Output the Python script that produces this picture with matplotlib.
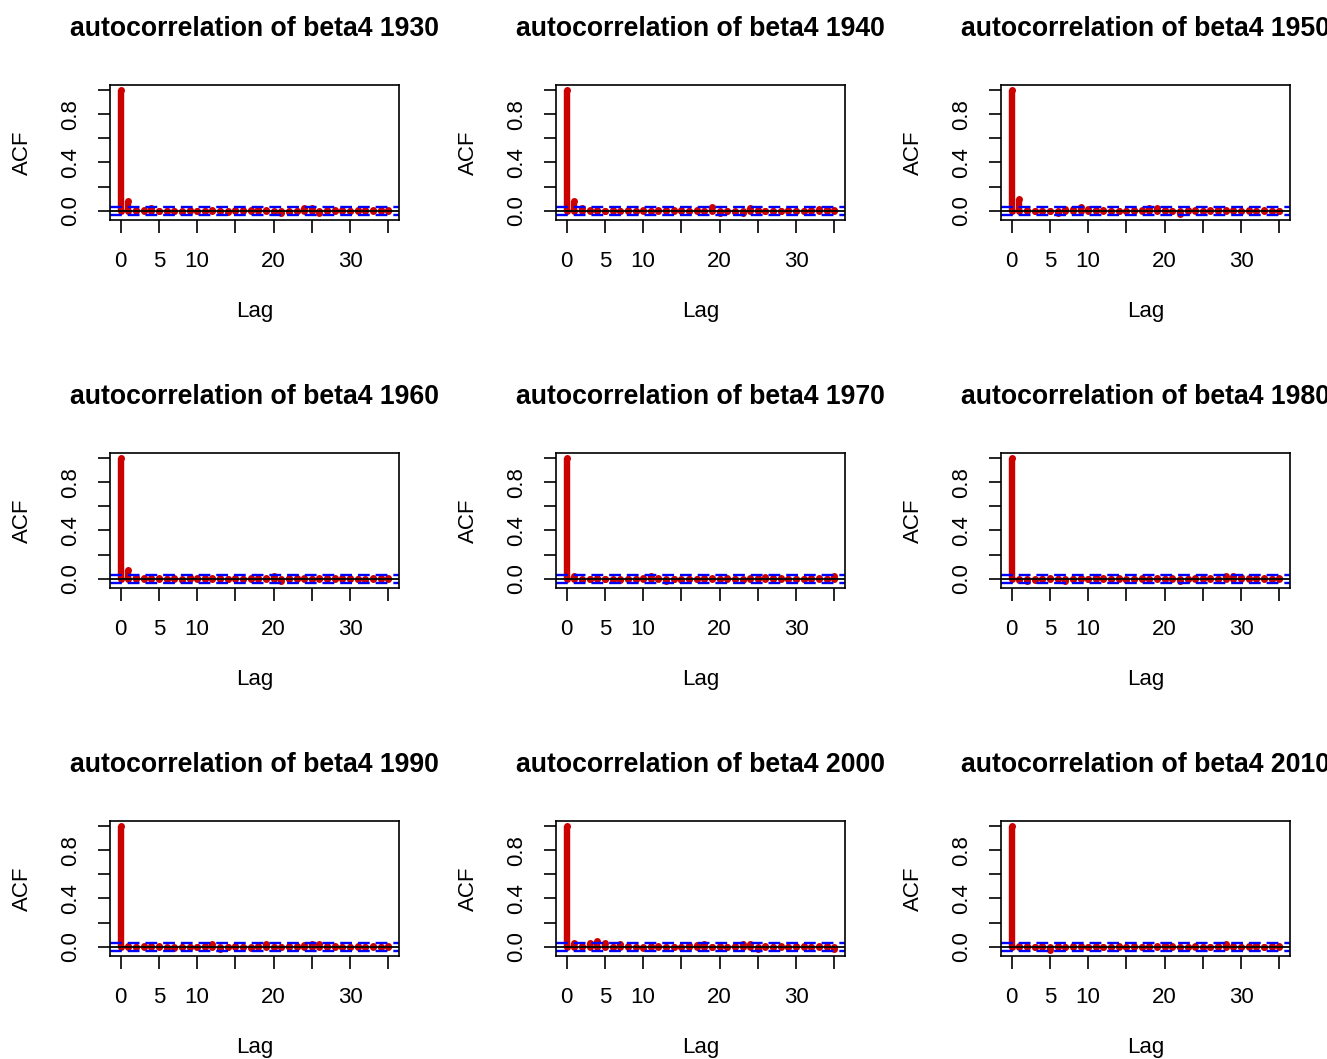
import matplotlib
matplotlib.use("Agg")
import matplotlib.pyplot as plt
import numpy as np

plt.rcParams['font.family'] = ['Liberation Sans', 'DejaVu Sans']

# acf of beta4 per decade, lags 0..35
years = [1930, 1940, 1950, 1960, 1970, 1980, 1990, 2000, 2010]
lags = list(range(36))

acf_1930 = [1.0, 0.08, 0.005, 0.01, 0.025, -0.005, 0.0, -0.005, -0.01, 0.005, 0.0, -0.005,
            0.01, 0.0, -0.01, 0.005, 0.01, 0.01, 0.015, 0.01, -0.01, -0.015, -0.01, -0.005,
            0.02, 0.025, -0.02, 0.005, 0.01, 0.01, -0.005, 0.01, 0.01, 0.005, 0.01, 0.005]
acf_1940 = [1.0, 0.08, 0.02, 0.01, 0.005, -0.005, 0.005, 0.0, 0.01, -0.005, 0.005, 0.0,
            0.01, 0.005, 0.01, 0.005, 0.0, 0.01, 0.0, 0.03, -0.015, -0.005, -0.01, -0.015,
            0.02, 0.01, 0.0, -0.005, 0.0, 0.005, -0.005, 0.0, 0.01, 0.015, 0.015, 0.005]
acf_1950 = [1.0, 0.1, 0.01, 0.0, -0.005, 0.0, -0.015, 0.015, 0.015, 0.03, 0.015, 0.01,
            0.005, 0.0, -0.005, 0.0, 0.005, 0.01, 0.02, 0.02, 0.005, 0.0, -0.03, 0.005,
            0.005, -0.005, 0.01, 0.015, 0.01, 0.005, 0.0, 0.005, 0.0, 0.005, 0.0, -0.005]
acf_1960 = [1.0, 0.07, 0.015, 0.01, 0.01, 0.005, 0.0, 0.005, -0.01, 0.015, 0.005, 0.01,
            0.01, 0.005, 0.0, 0.005, 0.0, 0.005, 0.01, 0.01, 0.02, -0.02, 0.005, 0.005,
            0.005, 0.0, 0.005, 0.005, 0.01, 0.01, 0.005, 0.0, -0.01, 0.005, 0.005, 0.005]
acf_1970 = [1.0, 0.02, -0.01, 0.0, 0.005, 0.0, -0.01, -0.01, 0.0, -0.005, 0.005, 0.02,
            0.005, -0.02, -0.005, -0.01, 0.0, 0.0, 0.005, 0.01, -0.005, 0.005, 0.0, -0.01,
            0.01, 0.005, 0.015, 0.01, 0.005, 0.0, -0.005, 0.0, 0.005, 0.01, 0.0, 0.02]
acf_1980 = [1.0, -0.01, -0.02, -0.01, -0.005, 0.005, -0.005, -0.02, -0.005, 0.005, 0.0, 0.015,
            0.01, -0.005, 0.005, -0.01, 0.0, 0.005, 0.0, 0.005, -0.005, 0.005, -0.02, 0.0,
            0.01, 0.005, 0.01, 0.0, 0.025, 0.02, 0.015, 0.005, 0.01, 0.005, 0.0, 0.005]
acf_1990 = [1.0, 0.01, -0.005, 0.005, 0.01, 0.005, -0.01, -0.01, -0.005, -0.005, 0.0, 0.005,
            0.02, -0.015, 0.0, 0.005, 0.0, -0.01, 0.01, 0.02, -0.005, 0.0, 0.005, 0.01,
            0.015, 0.025, 0.02, 0.01, 0.005, 0.0, 0.0, 0.005, 0.0, 0.005, 0.0, 0.005]
acf_2000 = [1.0, 0.03, 0.005, 0.03, 0.045, 0.035, 0.0, 0.02, 0.01, 0.0, -0.01, 0.005,
            0.005, 0.0, -0.005, 0.0, 0.015, 0.015, 0.02, 0.0, 0.005, 0.0, 0.005, 0.02,
            0.02, -0.02, 0.005, 0.0, 0.005, 0.0, 0.005, 0.005, 0.0, 0.005, 0.01, -0.02]
acf_2010 = [1.0, 0.01, 0.01, 0.0, 0.005, -0.025, 0.005, 0.0, 0.01, 0.005, 0.0, 0.01,
            0.0, -0.005, 0.005, 0.0, 0.005, -0.005, 0.01, 0.005, 0.015, 0.005, 0.0, -0.005,
            0.005, 0.0, 0.0, 0.005, 0.02, 0.005, 0.0, 0.01, 0.015, 0.0, 0.01, 0.005]

acfs = [acf_1930, acf_1940, acf_1950, acf_1960, acf_1970,
        acf_1980, acf_1990, acf_2000, acf_2010]
ci = 0.035  # 95% bound

W, H = 1327, 1059
fig = plt.figure(figsize=(W / 100, H / 100), dpi=100)

col_left = [110, 556, 1001]
row_top = [85, 453, 821]
bw, bh = 289, 135
red = '#CD0000'
lw = 4.6

for i, year in enumerate(years):
    r, c = i // 3, i % 3
    x0, y0 = col_left[c], row_top[r]
    ax = fig.add_axes([x0 / W, 1 - (y0 + bh) / H, bw / W, bh / H])
    acf = np.array(acfs[i])

    # spikes with round ends (zero-length ones still leave a dot)
    ax.vlines(lags, 0, acf, colors=red, linewidth=lw)
    ax.plot(lags, acf, 'o', color=red, ms=lw + 0.4, mew=0)
    ax.plot(lags, np.zeros(len(lags)), 'o', color=red, ms=lw + 0.4, mew=0)
    ax.axhline(0, color='black', linewidth=1.3)
    for lvl in (ci, -ci):
        ax.axhline(lvl, color='blue', linewidth=1.7, dashes=(5, 2.5))

    lo = min(acf.min(), -ci)
    hi = max(acf.max(), ci)
    d = hi - lo
    ax.set_ylim(lo - 0.04 * d, hi + 0.04 * d)
    ax.set_xlim(-0.04 * 35, 35 * 1.04)

    ax.set_xticks(range(0, 36, 5))
    ax.set_xticklabels(['0', '5', '10', '', '20', '', '30', ''])
    ax.set_yticks([0, 0.2, 0.4, 0.6, 0.8, 1.0])
    ax.set_yticklabels(['0.0', '', '0.4', '', '0.8', ''], rotation=90, va='center')
    ax.tick_params(length=9, width=1.2, labelsize=16, direction='out')
    ax.tick_params(axis='x', pad=13)
    ax.tick_params(axis='y', pad=12)
    for s in ax.spines.values():
        s.set_linewidth(1.2)

    cx = x0 + bw / 2
    fig.text(cx / W, 1 - (y0 - 56) / H, 'autocorrelation of beta4 %d' % year,
             ha='center', va='center', fontsize=19.2, fontweight='bold')
    fig.text(cx / W, 1 - (y0 + bh + 92) / H, 'Lag', ha='center', va='center', fontsize=16)
    fig.text((x0 - 88) / W, 1 - (y0 + bh / 2) / H, 'ACF', ha='center', va='center',
             rotation=90, fontsize=16)

fig.savefig('out.png', dpi=100)
